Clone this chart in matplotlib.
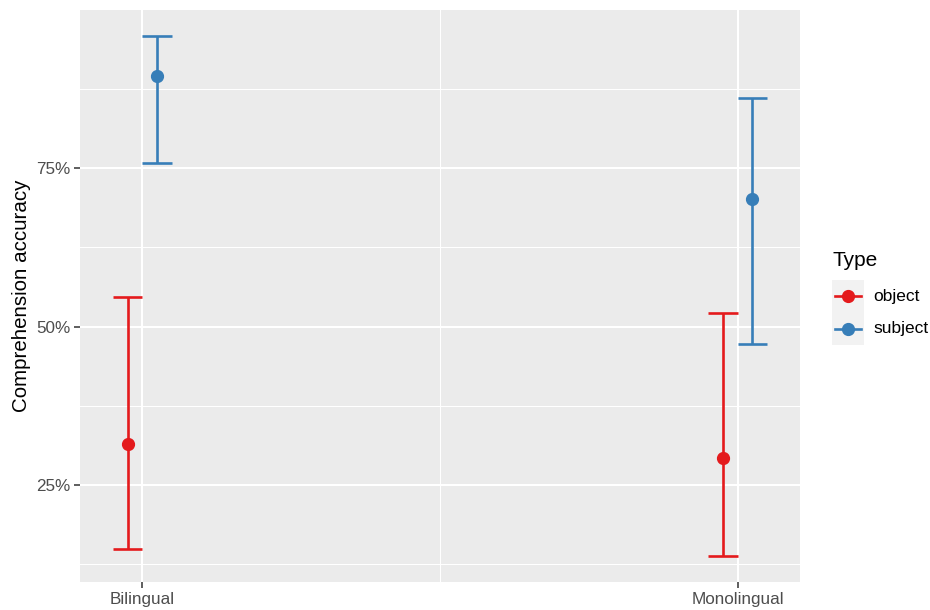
import numpy as np
import matplotlib.pyplot as plt
from matplotlib.lines import Line2D
from matplotlib.patches import Rectangle
from matplotlib.ticker import FuncFormatter

plt.rcParams['font.family'] = ['Liberation Sans', 'DejaVu Sans']

# group means and confidence limits (proportions)
groups = ["Bilingual", "Monolingual"]
types = ["object", "subject"]
acc_mean = {"object": [0.315, 0.293], "subject": [0.896, 0.701]}
acc_lo = {"object": [0.149, 0.138], "subject": [0.758, 0.472]}
acc_hi = {"object": [0.547, 0.521], "subject": [0.959, 0.861]}
colors = {"object": "#E41A1C", "subject": "#377EB8"}

W, H = 930, 610
fig = plt.figure(figsize=(W / 100, H / 100), dpi=100)
fig.patch.set_facecolor("white")

# panel box in pixels: left, top, right, bottom
pl, pt, pr, pb = 80, 10, 800, 582
ax = fig.add_axes([pl / W, 1 - pb / H, (pr - pl) / W, (pb - pt) / H])
ax.set_facecolor("#EBEBEB")
for s in ax.spines.values():
    s.set_visible(False)

dodge = 0.025
capw = 0.025
lw = 1.9
xpos = np.arange(1, len(groups) + 1)
for i, t in enumerate(types):
    off = -dodge if i == 0 else dodge
    x = xpos + off
    m = np.array(acc_mean[t])
    lo = np.array(acc_lo[t])
    hi = np.array(acc_hi[t])
    ax.vlines(x, lo, hi, color=colors[t], lw=lw, zorder=3)
    ax.hlines(lo, x - capw, x + capw, color=colors[t], lw=lw, zorder=3)
    ax.hlines(hi, x - capw, x + capw, color=colors[t], lw=lw, zorder=3)
    ax.plot(x, m, "o", color=colors[t], ms=8.5, zorder=4)

ax.set_xlim(0.895, 2.105)
ax.set_ylim(0.0965, 1.0)

ax.set_yticks([0.25, 0.5, 0.75])
ax.set_yticks([0.125, 0.375, 0.625, 0.875], minor=True)
ax.set_xticks(xpos)
ax.set_xticks([1.5], minor=True)
ax.set_xticklabels(groups)
ax.yaxis.set_major_formatter(FuncFormatter(lambda v, p: f"{v * 100:.0f}%"))

ax.grid(which="major", color="white", lw=1.5)
ax.grid(which="minor", color="white", lw=0.75)
ax.set_axisbelow(True)
ax.tick_params(which="major", length=4, width=1.1, color="#333333",
               labelsize=12.3, labelcolor="#4D4D4D", pad=3)
ax.tick_params(which="minor", length=0)
ax.set_ylabel("Comprehension accuracy", fontsize=14.8, color="black", labelpad=3.5)

# legend
def fx(px):
    return px / W

def fy(py):
    return 1 - py / H

fig.text(fx(832), fy(260), "Type", fontsize=15, va="center", ha="left")
key_top = 280
key_h = 32.5
for i, t in enumerate(types):
    y0 = key_top + i * key_h
    fig.patches.append(Rectangle((fx(832), fy(y0 + key_h)), fx(32), key_h / H,
                                 transform=fig.transFigure, facecolor="#F2F2F2",
                                 edgecolor="none"))
    yc = fy(y0 + key_h / 2)
    fig.lines.append(Line2D([fx(835), fx(861)], [yc, yc], color=colors[t], lw=lw,
                            transform=fig.transFigure))
    fig.lines.append(Line2D([fx(848)], [yc], marker="o", ms=8.5, color=colors[t],
                            transform=fig.transFigure))
    fig.text(fx(873), yc, t, fontsize=12.5, va="center", ha="left")

fig.savefig("out.png", dpi=100)
